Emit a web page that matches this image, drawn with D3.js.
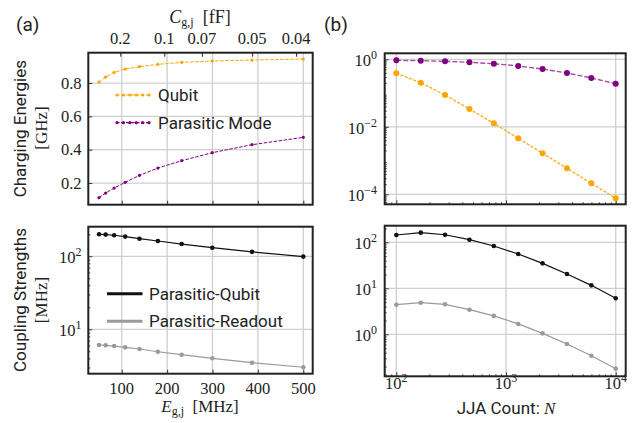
<!DOCTYPE html>
<html><head><meta charset="utf-8">
<script src="https://cdn.jsdelivr.net/npm/d3@7"></script>
<style>body{margin:0;background:#fff}</style>
</head><body><svg id="c" width="636" height="423"></svg>
<script>
// ---------- data ----------
const egj = [50, 64.6, 83.4, 107.7, 139.1, 179.7, 232.1, 299.5, 387.0, 500];
const qubitEc = [0.806, 0.836, 0.864, 0.884, 0.898, 0.912, 0.924, 0.932, 0.938, 0.944];
const parasiticEc = [0.112, 0.140, 0.170, 0.204, 0.246, 0.290, 0.334, 0.382, 0.430, 0.474];
const gParQubitA = [200, 198, 194, 186, 174, 162, 147, 131, 115, 99];
const gParReadoutA = [6.1, 6.04, 5.9, 5.66, 5.37, 4.93, 4.49, 4.01, 3.49, 3.02];
const jjaN = [100, 167, 278, 464, 774, 1292, 2154, 3594, 5995, 10000];
const qubitEcN = [0.385, 0.203, 0.0875, 0.0337, 0.0127, 0.00456, 0.00164, 0.000589, 0.000212, 0.0000761];
const parasiticEcN = [0.933, 0.910, 0.873, 0.815, 0.741, 0.633, 0.516, 0.393, 0.280, 0.189];
const gParQubitN = [144, 162, 146, 114, 83.2, 55.7, 34.9, 20.5, 11.6, 6.07];
const gParReadoutN = [4.40, 4.86, 4.49, 3.43, 2.51, 1.68, 1.05, 0.615, 0.343, 0.179];
const egjTicks = [100, 200, 300, 400, 500];
const cgTicks = [0.2, 0.1, 0.07, 0.05, 0.04];
const cgLabels = ["0.2", "0.1", "0.07", "0.05", "0.04"];
const ecTicks = [0.2, 0.4, 0.6, 0.8];
const gATicksExp = [1, 2];
const ecNTicksExp = [-4, -2, 0];
const gNTicksExp = [0, 1, 2];
const nTicksExp = [2, 3, 4];
const EC_CONST = 19.37; // E_g,j [MHz] * C_g,j [fF]

// ---------- styles ----------
const SERIF = "Liberation Serif";
const SANS = "Roboto";
const ORANGE = "#ffa500", PURPLE = "#800080", BLACK = "#111", GRAY = "#9a9a9a";
const GRID = "#cfcfcf", FRAME = "#222";
const TICKFS = 16.5;

const svg = d3.select("#c");

// ---------- scales ----------
const xA = d3.scaleLinear().domain([26.4, 520.7]).range([88.3, 312.7]);
const yAt = d3.scaleLinear().domain([0.070, 0.982]).range([204.7, 52.7]);
const yAb = d3.scaleLog().domain([Math.pow(10, 0.392), Math.pow(10, 2.405)]).range([373.7, 226.7]);
const xB = d3.scaleLog().domain([Math.pow(10, 1.894), Math.pow(10, 4.091)]).range([384.7, 625.7]);
const yBt = d3.scaleLog().domain([Math.pow(10, -4.296), Math.pow(10, 0.178)]).range([204.3, 53.3]);
const yBb = d3.scaleLog().domain([Math.pow(10, -0.913), Math.pow(10, 2.361)]).range([376.3, 225.7]);

function isPow10(v) { const l = Math.log10(v); return Math.abs(l - Math.round(l)) < 1e-9; }

function panel(x, y, xMajor, yMajor, xLog, yLog) {
  const g = svg.append("g");
  const [x0, x1] = x.range(), [y0, y1] = [y.range()[1], y.range()[0]];
  g.selectAll(".gx").data(xMajor).join("line")
    .attr("x1", d => x(d)).attr("x2", d => x(d)).attr("y1", y0).attr("y2", y1)
    .attr("stroke", GRID).attr("stroke-width", 1.3);
  g.selectAll(".gy").data(yMajor).join("line")
    .attr("y1", d => y(d)).attr("y2", d => y(d)).attr("x1", x0).attr("x2", x1)
    .attr("stroke", GRID).attr("stroke-width", 1.3);
  g.append("g").attr("transform", `translate(0,${y1})`)
    .call(d3.axisBottom(x).tickValues(xMajor).tickSize(-4).tickFormat(""));
  g.append("g").attr("transform", `translate(${x0},0)`)
    .call(d3.axisLeft(y).tickValues(yMajor).tickSize(-4).tickFormat(""));
  if (xLog) {
    const minor = x.ticks().filter(v => !isPow10(v));
    g.append("g").attr("transform", `translate(0,${y1})`)
      .call(d3.axisBottom(x).tickValues(minor).tickSize(-2).tickFormat(""));
  }
  if (yLog) {
    const minor = y.ticks().filter(v => !isPow10(v));
    g.append("g").attr("transform", `translate(${x0},0)`)
      .call(d3.axisLeft(y).tickValues(minor).tickSize(-2).tickFormat(""));
  }
  g.selectAll(".domain").remove();
  g.selectAll(".tick line").attr("stroke", FRAME).attr("stroke-width", 0.9);
  return g;
}

function frame(x, y) {
  const [x0, x1] = x.range(), [y0, y1] = [y.range()[1], y.range()[0]];
  svg.append("rect").attr("x", x0).attr("y", y0).attr("width", x1 - x0).attr("height", y1 - y0)
    .attr("fill", "none").attr("stroke", FRAME).attr("stroke-width", 2);
}

function series(g, x, y, xs, ys, color, opts) {
  const pts = xs.map((d, i) => [d, ys[i]]);
  const line = d3.line().x(d => x(d[0])).y(d => y(d[1]));
  g.append("path").datum(pts).attr("d", line).attr("fill", "none")
    .attr("stroke", color).attr("stroke-width", opts.lw)
    .attr("stroke-dasharray", opts.dash || null)
    .attr("stroke-opacity", opts.lineOpacity || 1);
  g.selectAll(null).data(pts).join("circle")
    .attr("cx", d => x(d[0])).attr("cy", d => y(d[1])).attr("r", opts.r).attr("fill", color);
}

function powLabel(sel, exp) {
  sel.append("tspan").text("10");
  sel.append("tspan").attr("font-size", 12).attr("dy", -7)
    .text(exp < 0 ? "\u2212" + (-exp) : String(exp));
}

// ---------- Panel (a) top ----------
const gAt = panel(xA, yAt, egjTicks, ecTicks, false, false);
series(gAt, xA, yAt, egj, qubitEc, ORANGE, { lw: 1, dash: "3.5,1.5", r: 1.6 });
series(gAt, xA, yAt, egj, parasiticEc, PURPLE, { lw: 1, dash: "3.5,1.5", r: 1.6 });
svg.append("g").attr("transform", `translate(0,${yAt.range()[1]})`)
  .call(d3.axisTop(xA).tickValues(cgTicks.map(c => EC_CONST / c)).tickSize(-4).tickFormat(""))
  .call(s => { s.select(".domain").remove(); s.selectAll(".tick line").attr("stroke", FRAME); });
svg.append("g").selectAll("text").data(cgTicks).join("text")
  .attr("x", d => xA(EC_CONST / d)).attr("y", 43.5).attr("text-anchor", "middle")
  .attr("font-family", SERIF).attr("font-size", TICKFS).attr("fill", "#222")
  .text((d, i) => cgLabels[i]);
svg.append("g").selectAll("text").data(ecTicks).join("text")
  .attr("x", 81.5).attr("y", d => yAt(d) + 5.5).attr("text-anchor", "end")
  .attr("font-family", SERIF).attr("font-size", TICKFS).attr("fill", "#222")
  .text(d => d.toFixed(1));
const legA = [{ label: "Qubit", color: ORANGE, y: 95 }, { label: "Parasitic Mode", color: PURPLE, y: 122.7 }];
legA.forEach(d => {
  svg.append("line").attr("x1", 116).attr("x2", 150).attr("y1", d.y).attr("y2", d.y)
    .attr("stroke", d.color).attr("stroke-width", 1.2).attr("stroke-dasharray", "3.5,1.5");
  svg.selectAll(null).data(d3.range(6)).join("circle")
    .attr("cx", i => 117 + i * 6.4).attr("cy", d.y).attr("r", 1.6).attr("fill", d.color);
  svg.append("text").attr("x", 158).attr("y", d.y + 6).attr("font-family", SANS)
    .attr("font-size", 17).attr("fill", "#222").text(d.label);
});
frame(xA, yAt);

// ---------- Panel (a) bottom ----------
const gAb = panel(xA, yAb, egjTicks, gATicksExp.map(e => Math.pow(10, e)), false, true);
series(gAb, xA, yAb, egj, gParQubitA, BLACK, { lw: 1.2, r: 2.3 });
series(gAb, xA, yAb, egj, gParReadoutA, GRAY, { lw: 1.2, r: 2.3 });
svg.append("g").selectAll("text").data(egjTicks).join("text")
  .attr("x", d => xA(d)).attr("y", 393.5).attr("text-anchor", "middle")
  .attr("font-family", SERIF).attr("font-size", TICKFS).attr("fill", "#222").text(d => d);
svg.append("g").selectAll("text").data(gATicksExp).join("text")
  .attr("x", 81.5).attr("y", d => yAb(Math.pow(10, d)) + 7).attr("text-anchor", "end")
  .attr("font-family", SERIF).attr("font-size", TICKFS).attr("fill", "#222")
  .each(function (d) { powLabel(d3.select(this), d); });
const legB = [{ label: "Parasitic-Qubit", color: BLACK, y: 293.7 }, { label: "Parasitic-Readout", color: GRAY, y: 321.3 }];
legB.forEach(d => {
  svg.append("line").attr("x1", 107).attr("x2", 142.5).attr("y1", d.y).attr("y2", d.y)
    .attr("stroke", d.color).attr("stroke-width", 3);
  svg.append("text").attr("x", 149).attr("y", d.y + 6).attr("font-family", SANS)
    .attr("font-size", 17).attr("fill", "#222").text(d.label);
});
frame(xA, yAb);

// ---------- Panel (b) top ----------
const gBt = panel(xB, yBt, nTicksExp.map(e => Math.pow(10, e)), ecNTicksExp.map(e => Math.pow(10, e)), true, true);
series(gBt, xB, yBt, jjaN, parasiticEcN, PURPLE, { lw: 1.4, dash: "5,2", r: 3, lineOpacity: 0.7 });
series(gBt, xB, yBt, jjaN, qubitEcN, ORANGE, { lw: 1.2, dash: "3,1.5", r: 3 });
svg.append("g").selectAll("text").data(ecNTicksExp).join("text")
  .attr("x", 377).attr("y", d => yBt(Math.pow(10, d)) + 7).attr("text-anchor", "end")
  .attr("font-family", SERIF).attr("font-size", TICKFS).attr("fill", "#222")
  .each(function (d) { powLabel(d3.select(this), d); });
frame(xB, yBt);

// ---------- Panel (b) bottom ----------
const gBb = panel(xB, yBb, nTicksExp.map(e => Math.pow(10, e)), gNTicksExp.map(e => Math.pow(10, e)), true, true);
series(gBb, xB, yBb, jjaN, gParQubitN, BLACK, { lw: 1.2, r: 2.3 });
series(gBb, xB, yBb, jjaN, gParReadoutN, GRAY, { lw: 1.2, r: 2.3 });
svg.append("g").selectAll("text").data(gNTicksExp).join("text")
  .attr("x", 377).attr("y", d => yBb(Math.pow(10, d)) + 7).attr("text-anchor", "end")
  .attr("font-family", SERIF).attr("font-size", TICKFS).attr("fill", "#222")
  .each(function (d) { powLabel(d3.select(this), d); });
svg.append("g").selectAll("text").data(nTicksExp).join("text")
  .attr("x", d => xB(Math.pow(10, d))).attr("y", 389).attr("text-anchor", "middle")
  .attr("font-family", SERIF).attr("font-size", TICKFS).attr("fill", "#222")
  .each(function (d) { powLabel(d3.select(this), d); });
frame(xB, yBb);

// ---------- axis titles ----------
function rotText(x, y, family, txt) {
  return svg.append("text").attr("transform", `translate(${x},${y}) rotate(-90)`)
    .attr("text-anchor", "middle").attr("font-family", family).attr("font-size", 17)
    .attr("fill", "#222").text(txt);
}
rotText(26, 128.7, SANS, "Charging Energies");
rotText(47, 128, SERIF, "[GHz]");
rotText(26, 300, SANS, "Coupling Strengths");
rotText(47, 300, SERIF, "[MHz]");

const tTop = svg.append("text").attr("x", 200).attr("y", 23).attr("text-anchor", "middle")
  .attr("font-family", SERIF).attr("font-size", 18).attr("fill", "#222");
tTop.append("tspan").attr("font-style", "italic").text("C");
tTop.append("tspan").attr("font-size", 12).attr("dy", 2.5).text("g,j");
tTop.append("tspan").attr("dy", -2.5).text("\u2002[fF]");

const tBot = svg.append("text").attr("x", 200).attr("y", 412).attr("text-anchor", "middle")
  .attr("font-family", SERIF).attr("font-size", 17).attr("fill", "#222");
tBot.append("tspan").attr("font-style", "italic").text("E");
tBot.append("tspan").attr("font-size", 12).attr("dy", 2.5).text("g,j");
tBot.append("tspan").attr("dy", -2.5).text("\u2002[MHz]");

const tN = svg.append("text").attr("x", 506).attr("y", 414).attr("text-anchor", "middle")
  .attr("font-family", SANS).attr("font-size", 17).attr("fill", "#222");
tN.append("tspan").text("JJA Count: ");
tN.append("tspan").attr("font-family", SERIF).attr("font-style", "italic").text("N");

svg.append("text").attr("x", 16).attr("y", 31).attr("font-family", SANS).attr("font-size", 19)
  .attr("fill", "#222").text("(a)");
svg.append("text").attr("x", 324).attr("y", 31).attr("font-family", SANS).attr("font-size", 19)
  .attr("fill", "#222").text("(b)");
</script>
</body></html>
